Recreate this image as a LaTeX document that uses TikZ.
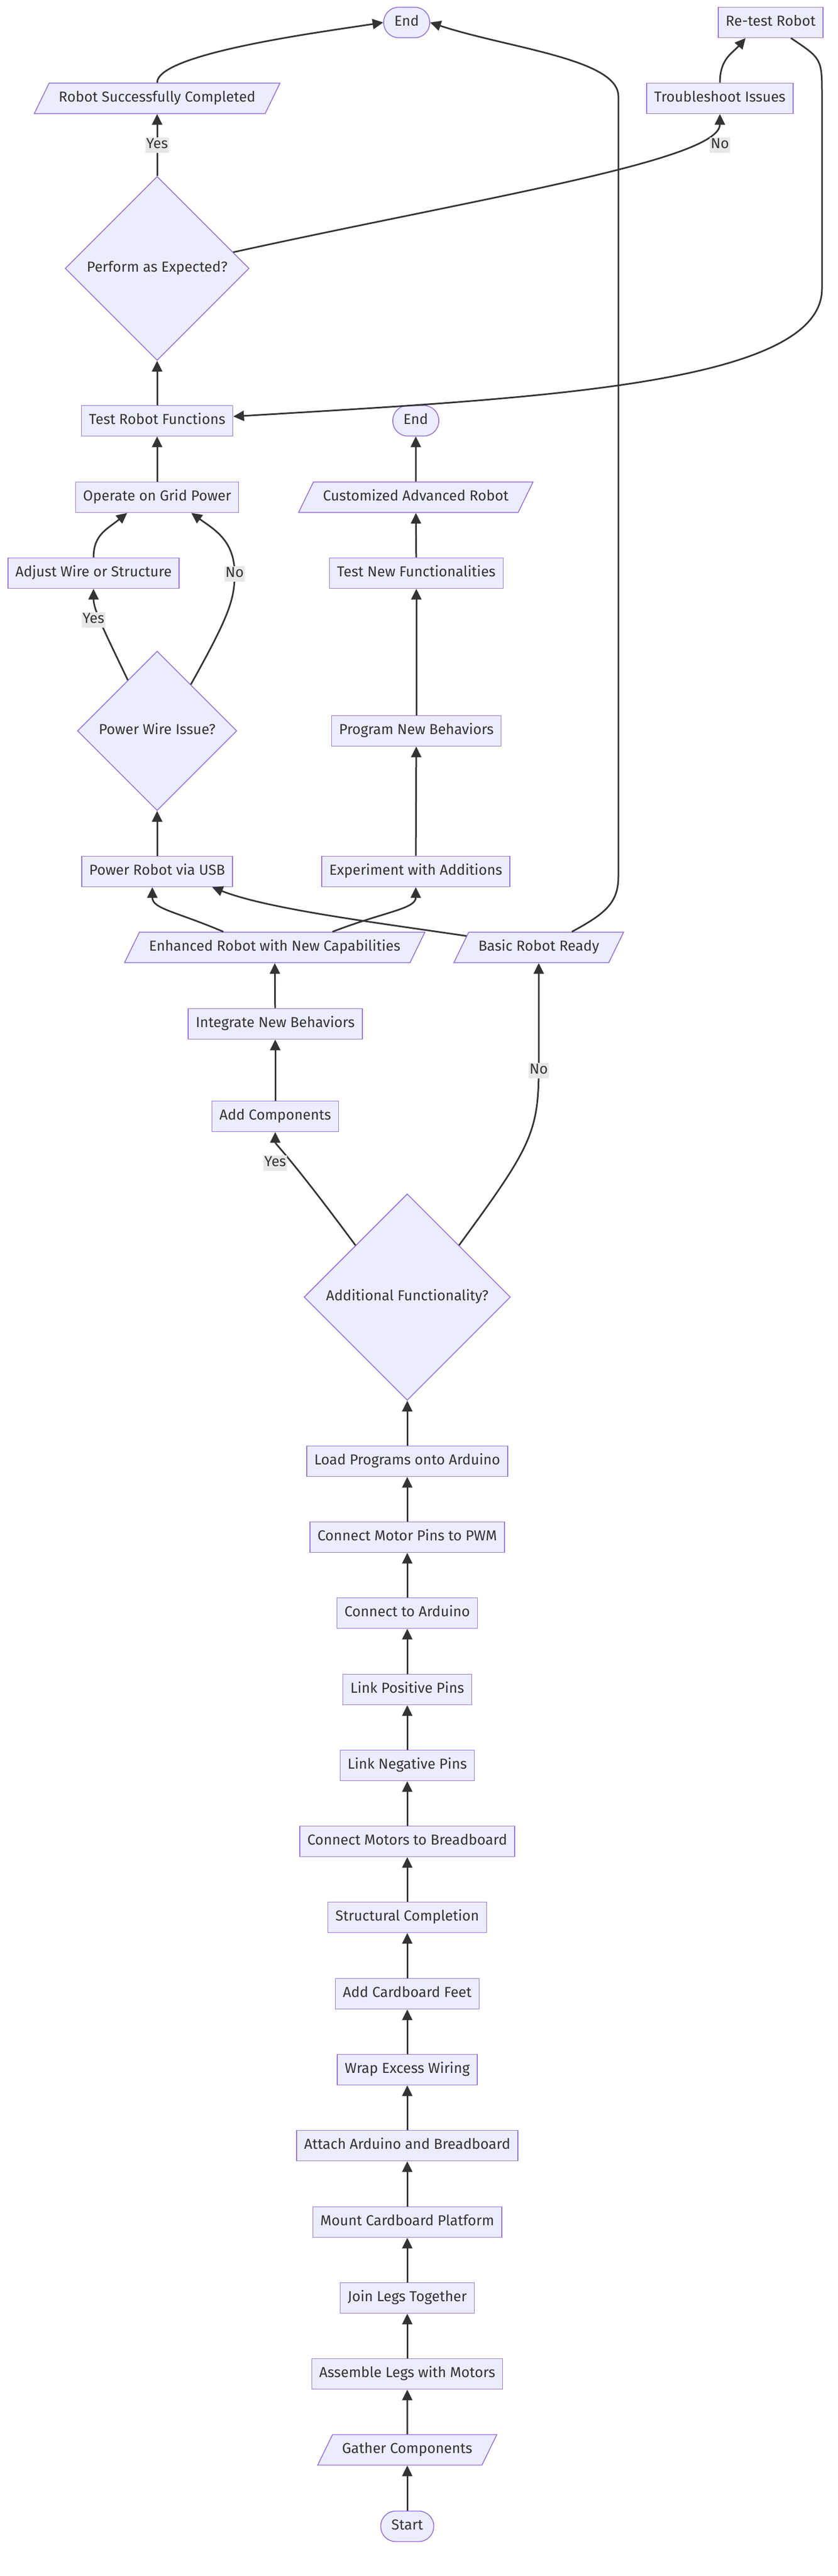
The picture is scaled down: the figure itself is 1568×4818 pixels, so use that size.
\documentclass[tikz,border=0pt]{standalone}
\usepackage{fontspec}
\setmainfont{Fira Sans}
\usetikzlibrary{shapes.geometric,arrows.meta}

\definecolor{fond}{HTML}{ECECFF}
\definecolor{bord}{HTML}{9370DB}
\definecolor{texte}{HTML}{333333}
\definecolor{gris}{HTML}{E8E8E8}

\begin{document}
\begin{tikzpicture}[x=1pt,y=-1pt]
      \tikzstyle{base}=[draw=bord, fill=fond, text=texte, line width=1.6pt, font=\fontsize{27}{31}\selectfont, text height=19pt, text depth=6pt]
      \tikzstyle{boite}=[base, rectangle, inner xsep=14pt, inner ysep=16pt]
      \tikzstyle{donnee}=[base, trapezium, trapezium left angle=64, trapezium right angle=116, inner xsep=18pt, inner ysep=16pt]
      \tikzstyle{bout}=[base, rectangle, rounded corners=28pt, inner xsep=20pt, inner ysep=16pt]
      \tikzstyle{choix}=[base, diamond, aspect=1, inner sep=0pt]
      \tikzstyle{etiq}=[fill=gris, text=texte, inner sep=2pt, font=\fontsize{27}{31}\selectfont, text height=19pt, text depth=6pt]
      \tikzstyle{fleche}=[-{Triangle[length=20pt,width=19pt]}, line width=3pt, draw=texte]
      \useasboundingbox (0,0) rectangle (1568,4818);

      % montage
      \node[bout] (start) at (762,4725) {Start};
      \node[donnee] (gather) at (762,4582) {Gather Components};
      \node[boite] (assemble) at (762,4440) {Assemble Legs with Motors};
      \node[boite] (join) at (762,4298) {Join Legs Together};
      \node[boite] (mount) at (762,4156) {Mount Cardboard Platform};
      \node[boite] (attach) at (762,4013) {Attach Arduino and Breadboard};
      \node[boite] (wrap) at (762,3871) {Wrap Excess Wiring};
      \node[boite] (feet) at (762,3729) {Add Cardboard Feet};
      \node[boite] (structural) at (762,3586) {Structural Completion};
      \node[boite] (motors) at (762,3444) {Connect Motors to Breadboard};
      \node[boite] (negpins) at (762,3302) {Link Negative Pins};
      \node[boite] (pospins) at (762,3160) {Link Positive Pins};
      \node[boite] (arduino) at (762,3017) {Connect to Arduino};
      \node[boite] (pwm) at (762,2875) {Connect Motor Pins to PWM};
      \node[boite] (load) at (762,2733) {Load Programs onto Arduino};
      \node[choix, minimum size=386pt] (addfunc) at (762,2426) {Additional Functionality?};

      % options
      \node[boite] (addcomp) at (515,2088) {Add Components};
      \node[boite] (integrate) at (515,1915) {Integrate New Behaviors};
      \node[donnee] (enhanced) at (514,1772) {Enhanced Robot with New Capabilities};
      \node[donnee] (basic) at (1008,1772) {Basic Robot Ready};
      \node[boite] (usb) at (294,1630) {Power Robot via USB};
      \node[boite] (experiment) at (778,1630) {Experiment with Additions};
      \node[choix, minimum size=298pt] (wire) at (294,1367) {Power Wire Issue?};
      \node[boite] (program) at (779,1367) {Program New Behaviors};
      \node[boite] (adjust) at (175,1072) {Adjust Wire or Structure};
      \node[boite] (testnew) at (779,1072) {Test New Functionalities};
      \node[boite] (grid) at (294,930) {Operate on Grid Power};
      \node[donnee] (custom) at (778,930) {Customized Advanced Robot};
      \node[boite] (testfunc) at (294,787) {Test Robot Functions};
      \node[bout] (endbas) at (778,787) {End};
      \node[choix, minimum size=344pt] (perform) at (294,502) {Perform as Expected?};
      \node[donnee] (success) at (294,184) {Robot Successfully Completed};
      \node[boite] (trouble) at (1347,184) {Troubleshoot Issues};
      \node[bout] (endhaut) at (761,42) {End};
      \node[boite] (retest) at (1442,42) {Re-test Robot};

      \draw[fleche] (start)--(gather);
      \draw[fleche] (gather)--(assemble);
      \draw[fleche] (assemble)--(join);
      \draw[fleche] (join)--(mount);
      \draw[fleche] (mount)--(attach);
      \draw[fleche] (attach)--(wrap);
      \draw[fleche] (wrap)--(feet);
      \draw[fleche] (feet)--(structural);
      \draw[fleche] (structural)--(motors);
      \draw[fleche] (motors)--(negpins);
      \draw[fleche] (negpins)--(pospins);
      \draw[fleche] (pospins)--(arduino);
      \draw[fleche] (arduino)--(pwm);
      \draw[fleche] (pwm)--(load);
      \draw[fleche] (load)--(addfunc);
      \draw[fleche] (addfunc.north west) .. controls (540,2160) and (515,2140) .. (addcomp.south);
      \draw[fleche] (addfunc.north east) .. controls (990,2150) and (1008,2120) .. (1008,2000) -- (basic.south);
      \draw[fleche] (addcomp)--(integrate);
      \draw[fleche] (integrate)--(enhanced);
      \draw[fleche] ([xshift=-96pt]enhanced.north) .. controls (330,1705) and (285,1700) .. ([xshift=-9pt]usb.south);
      \draw[fleche] ([xshift=108pt]enhanced.north) .. controls (720,1705) and (778,1700) .. (experiment.south);
      \draw[fleche] (basic.171) .. controls (700,1725) and (500,1700) .. ([xshift=103pt]usb.south);
      \draw[fleche] ([xshift=62pt]basic.north) .. controls (1130,1710) and (1157,1690) .. (1157,1640) -- (1157,180) .. controls (1157,110) and (950,90) .. (endhaut.east);
      \draw[fleche] (usb)--(wire);
      \draw[fleche] (wire.120) .. controls (195,1180) and (175,1140) .. (adjust.south);
      \draw[fleche] (wire.54) .. controls (430,1150) and (439,1120) .. (439,1073) .. controls (439,1010) and (400,990) .. ([xshift=64pt]grid.south);
      \draw[fleche] (adjust.north) .. controls (175,1000) and (200,990) .. ([xshift=-56pt]grid.south);
      \draw[fleche] (grid)--(testfunc);
      \draw[fleche] (experiment)--(program);
      \draw[fleche] (program)--(testnew);
      \draw[fleche] (testnew)--(custom);
      \draw[fleche] (custom)--(endbas);
      \draw[fleche] (testfunc)--(perform);
      \draw[fleche] (perform)--(success);
      \draw[fleche] (perform.12) .. controls (900,370) and (1347,300) .. (trouble.south);
      \draw[fleche] (trouble.north) .. controls (1347,110) and (1370,100) .. ([xshift=-47pt]retest.south);
      \draw[fleche] ([xshift=38pt]retest.south) .. controls (1538,110) .. (1538,180) -- (1538,540) .. controls (1538,720) and (1000,745) .. ([yshift=8pt]testfunc.east);
      \draw[fleche] (success.north) .. controls (294,100) and (600,60) .. (endhaut.west);

      \node[etiq] (oui1) at (294,271) {Yes};
      \node[etiq] (non1) at (1347,271) {No};
      \node[etiq] (oui2) at (175,1159) {Yes};
      \node[etiq] (non2) at (439,1073) {No};
      \node[etiq] (oui3) at (515,2175) {Yes};
      \node[etiq] (non3) at (1008,2002) {No};

    \end{tikzpicture}
\end{document}
